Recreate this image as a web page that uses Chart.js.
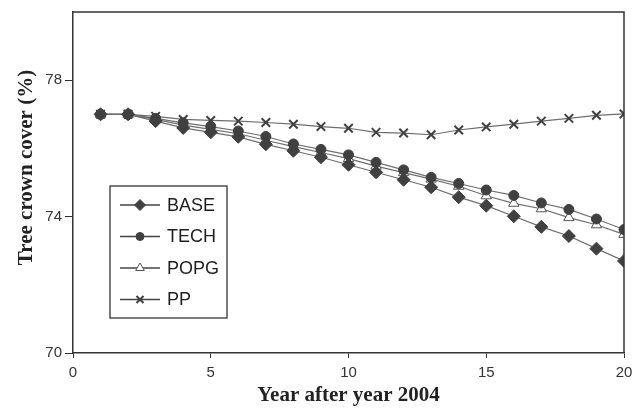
<!DOCTYPE html>
<html>
<head>
<meta charset="utf-8">
<script src="https://cdn.jsdelivr.net/npm/chart.js@4.4.1/dist/chart.umd.min.js"></script>
<style>
  html, body { margin: 0; padding: 0; background: #fff; }
  #wrap { width: 644px; height: 410px; }
</style>
</head>
<body>
<div id="wrap"><canvas id="c" width="644" height="410"></canvas></div>
<script>
const years = [1,2,3,4,5,6,7,8,9,10,11,12,13,14,15,16,17,18,19,20];
const base = [77.00,77.00,76.80,76.60,76.47,76.34,76.12,75.93,75.74,75.52,75.30,75.08,74.86,74.57,74.32,74.01,73.70,73.43,73.06,72.70];
const tech = [77.00,77.00,76.88,76.75,76.64,76.51,76.35,76.13,75.97,75.81,75.59,75.37,75.15,74.97,74.78,74.62,74.40,74.21,73.93,73.62];
const popg = [77.00,77.00,76.85,76.68,76.56,76.43,76.24,76.05,75.88,75.70,75.48,75.29,75.10,74.89,74.61,74.39,74.23,73.97,73.76,73.48];
const pp   = [77.00,77.00,76.94,76.85,76.82,76.80,76.76,76.71,76.64,76.59,76.47,76.45,76.40,76.54,76.63,76.71,76.80,76.88,76.97,77.01];
const seriesNames = ['BASE','TECH','POPG','PP'];
const xTicks = [0,5,10,15,20];
const yTicks = [70,74,78];
const xTitle = 'Year after year 2004';
const yTitle = 'Tree crown cover (%)';

const toXY = arr => years.map((x, i) => ({x, y: arr[i]}));
const lineColor = '#6e6e6e';
const markColor = '#404040';
const titleFont = 'bold 21px "Liberation Serif", "Times New Roman", serif';

const styles = [
  {pointStyle: 'rectRot', pointRadius: 6.5, pointBackgroundColor: markColor, pointBorderColor: markColor, pointBorderWidth: 1},
  {pointStyle: 'circle', pointRadius: 5, pointBackgroundColor: markColor, pointBorderColor: markColor, pointBorderWidth: 1},
  {pointStyle: 'triangle', pointRadius: 6, pointBackgroundColor: '#ffffff', pointBorderColor: '#555', pointBorderWidth: 1},
  {pointStyle: 'crossRot', pointRadius: 6, pointBackgroundColor: markColor, pointBorderColor: markColor, pointBorderWidth: 2}
];
const dataArrays = [base, tech, popg, pp];

const datasets = dataArrays.map((arr, i) => Object.assign({
  label: seriesNames[i],
  data: toXY(arr),
  borderColor: lineColor,
  borderWidth: 1.2,
  fill: false,
  tension: 0
}, styles[i]));

const frame = {
  id: 'frame',
  afterDraw(chart) {
    const {ctx, chartArea: a} = chart;
    ctx.save();
    ctx.strokeStyle = '#333';
    ctx.lineWidth = 1.5;
    ctx.beginPath();
    ctx.moveTo(a.left, a.top);
    ctx.lineTo(a.right, a.top);
    ctx.lineTo(a.right, a.bottom);
    ctx.stroke();
    // y-axis title
    ctx.fillStyle = '#222';
    ctx.font = titleFont;
    ctx.textAlign = 'center';
    ctx.textBaseline = 'middle';
    ctx.translate(27, (a.top + a.bottom) / 2 - 15);
    ctx.rotate(-Math.PI / 2);
    ctx.fillText(yTitle, 0, 0);
    ctx.restore();
  }
};

const insideLegend = {
  id: 'insideLegend',
  afterDraw(chart) {
    const {ctx, chartArea: a} = chart;
    const bx = a.left + 37, by = a.top + 174, bw = 117, bh = 132;
    ctx.save();
    ctx.fillStyle = '#fff';
    ctx.fillRect(bx, by, bw, bh);
    ctx.strokeStyle = '#333';
    ctx.lineWidth = 1.3;
    ctx.strokeRect(bx, by, bw, bh);
    ctx.font = '18px "Liberation Sans", Arial, sans-serif';
    ctx.textBaseline = 'middle';
    chart.data.datasets.forEach((ds, i) => {
      const y = by + 19 + i * 31.5;
      const x0 = bx + 10, x1 = bx + 50;
      ctx.strokeStyle = '#444';
      ctx.lineWidth = 1.3;
      ctx.beginPath();
      ctx.moveTo(x0, y); ctx.lineTo(x1, y); ctx.stroke();
      ctx.fillStyle = ds.pointBackgroundColor;
      ctx.strokeStyle = ds.pointBorderColor;
      ctx.lineWidth = ds.pointBorderWidth;
      Chart.helpers.drawPoint(ctx, {pointStyle: ds.pointStyle, radius: ds.pointRadius - 1, borderWidth: ds.pointBorderWidth, rotation: 0}, (x0 + x1) / 2, y);
      ctx.fillStyle = '#1e1e1e';
      ctx.fillText(ds.label, bx + 57, y + 1);
    });
    ctx.restore();
  }
};

new Chart(document.getElementById('c'), {
  type: 'line',
  data: {datasets},
  options: {
    responsive: false,
    animation: false,
    layout: {padding: {left: 0, right: 20, top: 10, bottom: 0}},
    plugins: {legend: {display: false}, tooltip: {enabled: false}},
    scales: {
      x: {
        type: 'linear',
        min: 0, max: 20,
        afterBuildTicks: s => { s.ticks = xTicks.map(v => ({value: v})); },
        afterFit: s => { s.height = 57; },
        grid: {drawOnChartArea: false, drawTicks: true, tickLength: 5, color: '#333'},
        border: {display: true, color: '#333', width: 1.5},
        ticks: {color: '#333', padding: 6, font: {size: 15, family: '"Liberation Sans", Arial, sans-serif'}, maxRotation: 0},
        title: {display: true, text: xTitle, color: '#222', padding: {top: 0, bottom: 2},
          font: {size: 21, weight: 'bold', family: '"Liberation Serif", "Times New Roman", serif'}}
      },
      y: {
        min: 70, max: 80,
        afterBuildTicks: s => { s.ticks = yTicks.map(v => ({value: v})); },
        afterFit: s => { s.width = 73; },
        grid: {drawOnChartArea: false, drawTicks: true, tickLength: 8, color: '#333'},
        border: {display: true, color: '#333', width: 1.5},
        ticks: {color: '#333', padding: 3, font: {size: 15, family: '"Liberation Sans", Arial, sans-serif'}},
        title: {display: false}
      }
    }
  },
  plugins: [frame, insideLegend]
});
</script>
</body>
</html>
